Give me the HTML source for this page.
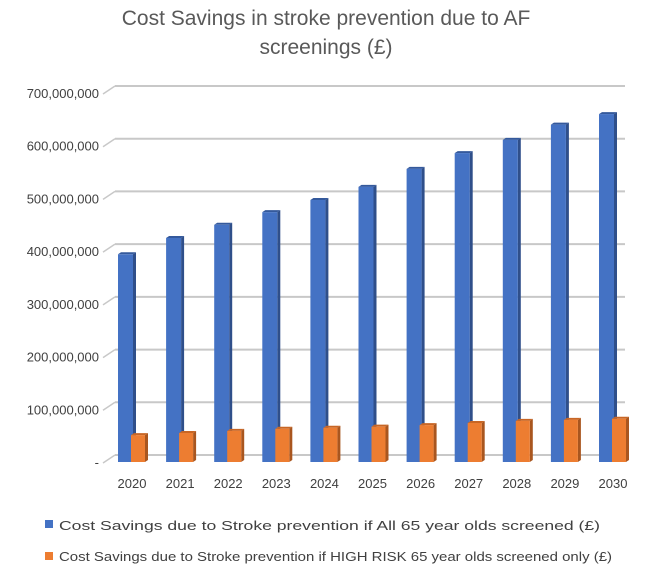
<!DOCTYPE html>
<html><head><meta charset="utf-8"><style>
body{margin:0;background:#fff}
svg{display:block;font-family:"Liberation Sans",sans-serif}
</style></head><body>
<svg id="chart" width="652" height="565" xmlns="http://www.w3.org/2000/svg">
<text x="326" y="25" text-anchor="middle" font-size="21" fill="#595959">Cost Savings in stroke prevention due to AF</text>
<text x="326" y="54" text-anchor="middle" font-size="21" fill="#595959">screenings (£)</text>
<g id="grid"></g><g id="bars"></g><g id="xlabels"></g>
<rect x="45" y="520" width="8" height="8" fill="#4472c4"/>
<text x="59" y="530" font-size="13" fill="#404040" textLength="541" lengthAdjust="spacingAndGlyphs">Cost Savings due to Stroke prevention if All 65 year olds screened (£)</text>
<rect x="45" y="552" width="8" height="8" fill="#ed7d31"/>
<text x="59" y="561" font-size="13" fill="#404040" textLength="553" lengthAdjust="spacingAndGlyphs">Cost Savings due to Stroke prevention if HIGH RISK 65 year olds screened only (£)</text>
</svg>
<script>
const categories=["2020","2021","2022","2023","2024","2025","2026","2027","2028","2029","2030"];
const allScreened=[394,425,450,474,497,522,556,586,611,640,660];
const highRisk=[51,55,59,63,65,67,70,74,78,80,82];
const yTicks=[0,100,200,300,400,500,600,700];
const yTickLabels=["-","100,000,000","200,000,000","300,000,000","400,000,000","500,000,000","600,000,000","700,000,000"];
const NS="http://www.w3.org/2000/svg";
function y(v){return 462-v*369/700;}
function x(i){return 118+i*48.1;}
function mk(t,a,p){const e=document.createElementNS(NS,t);for(const k in a)e.setAttribute(k,a[k]);p.appendChild(e);return e;}
const grid=document.getElementById('grid');
yTicks.forEach((v,i)=>{
  const yy=y(v);
  const l=mk('line',{x1:115,y1:yy-7,x2:625,y2:yy-7,stroke:'#c8c8c8','stroke-width':2},grid);
  
  
  const d=mk('line',{x1:103,y1:yy+1,x2:115,y2:yy-7,stroke:'#c8c8c8','stroke-width':1.5},grid);
  
  
  const t=mk('text',{x:99,y:yy+5,'text-anchor':'end','font-size':13,fill:'#404040'},grid);
  t.textContent=yTickLabels[i];
  
  
});
const bars=document.getElementById('bars');
function bar(x0,w,v,front,side,top,name){
  const yt=y(v),yb=462,d=3;
  const g=mk('g',{},bars);
  
  
  mk('polygon',{points:`${x0+w},${yt} ${x0+w+d},${yt-2} ${x0+w+d},${yb-2} ${x0+w},${yb}`,fill:side},g);
  mk('polygon',{points:`${x0},${yt} ${x0+d},${yt-2} ${x0+w+d},${yt-2} ${x0+w},${yt}`,fill:top},g);
  mk('rect',{x:x0,y:yt,width:w,height:yb-yt,fill:front},g);
}
categories.forEach((c,i)=>{
  bar(x(i),15,allScreened[i],'#4472c4','#2f4f8a','#34599c','bar-all-'+c);
  bar(x(i)+13,14,highRisk[i],'#ed7d31','#a9561f','#c86625','bar-high-risk-'+c);
  const t=mk('text',{x:x(i)+14,y:488,'text-anchor':'middle','font-size':13,fill:'#404040'},document.getElementById('xlabels'));
  t.textContent=c;
  
  
});
</script>
</body></html>
